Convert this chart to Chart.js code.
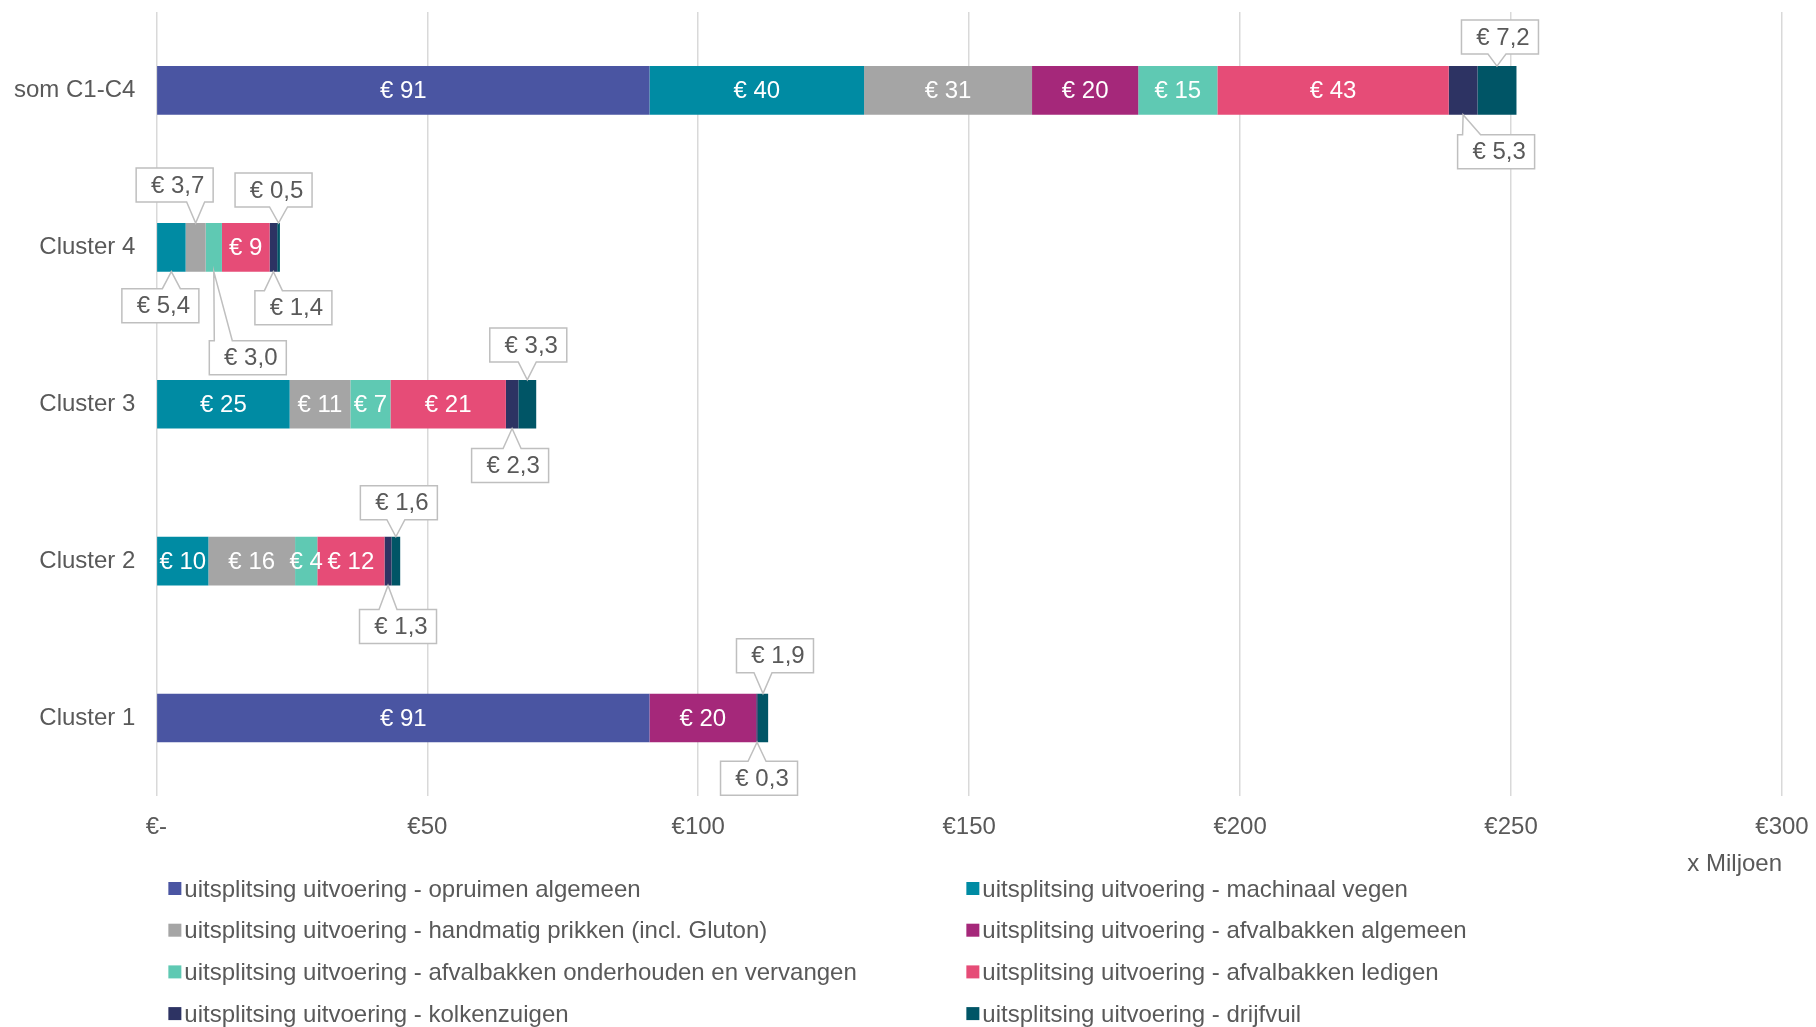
<!DOCTYPE html>
<html>
<head>
    <title>Uitsplitsing uitvoering per cluster</title>
    <meta charset="UTF-8">
    <script src="https://cdn.jsdelivr.net/npm/chart.js@4.4.0/dist/chart.umd.min.js"></script>
    <style>
        html, body { margin: 0; padding: 0; background: #fff; }
    </style>
</head>
<body>
    <canvas id="costChart" width="1816" height="1027"></canvas>

    <script>
        // Categories (top to bottom) and x-axis tick labels
        var categories = ['som C1-C4', 'Cluster 4', 'Cluster 3', 'Cluster 2', 'Cluster 1'];
        var xTickLabels = ['€-', '€50', '€100', '€150', '€200', '€250', '€300'];

        var seriesNames = [
            'uitsplitsing uitvoering - opruimen algemeen',
            'uitsplitsing uitvoering - machinaal vegen',
            'uitsplitsing uitvoering - handmatig prikken (incl. Gluton)',
            'uitsplitsing uitvoering - afvalbakken algemeen',
            'uitsplitsing uitvoering - afvalbakken onderhouden en vervangen',
            'uitsplitsing uitvoering - afvalbakken ledigen',
            'uitsplitsing uitvoering - kolkenzuigen',
            'uitsplitsing uitvoering - drijfvuil'
        ];

        // Values in millions of euros, one per category
        var opruimenAlgemeen     = [91,   0,   0,    0,    91];
        var machinaalVegen       = [39.6, 5.4, 24.6, 9.6,  0];
        var handmatigPrikken     = [31,   3.7, 11.2, 16,   0];
        var afvalbakkenAlgemeen  = [19.6, 0,   0,    0,    19.7];
        var afvalbakkenOnderhoud = [14.6, 3.0, 7.4,  4.1,  0];
        var afvalbakkenLedigen   = [42.7, 8.8, 21.3, 12.4, 0];
        var kolkenzuigen         = [5.3,  1.4, 2.3,  1.3,  0.3];
        var drijfvuil            = [7.2,  0.5, 3.3,  1.6,  1.9];

        var seriesValues = [opruimenAlgemeen, machinaalVegen, handmatigPrikken, afvalbakkenAlgemeen,
                            afvalbakkenOnderhoud, afvalbakkenLedigen, kolkenzuigen, drijfvuil];
        var seriesColors = ['#4a55a2', '#008ba3', '#a5a5a5', '#a5287a', '#5fc9b3', '#e64c77', '#2d3363', '#005566'];

        // Callout placement for small segments: "series-category" -> [dx, dy] of the box centre
        // relative to the segment centre on the bar edge (dy < 0 above the bar, dy > 0 below)
        var callouts = {
            '7-0': [3, -29],  '6-0': [33, 37],
            '1-1': [-11, 34], '2-1': [-21, -38], '4-1': [34, 86], '6-1': [20, 36], '7-1': [-5, -33],
            '6-2': [-2, 37],  '7-2': [1, -35],
            '6-3': [10, 41],  '7-3': [3, -34],
            '6-4': [2, 36],   '7-4': [12, -38]
        };

        var textColor = '#595959';
        Chart.defaults.font.family = '"Liberation Sans", Arial, sans-serif';
        Chart.defaults.font.size = 24;
        Chart.defaults.color = textColor;

        function euro1(v) {
            return '€ ' + v.toFixed(1).replace('.', ',');
        }

        function drawCallout(ctx, ax, ay, cx, cy, text) {
            var w = 77, h = 34, half = 9;
            var l = cx - w / 2, r = cx + w / 2, t = cy - h / 2, b = cy + h / 2;
            var bx = Math.min(Math.max(ax, l + 14), r - 14);
            ctx.beginPath();
            if (cy > ay) {
                ctx.moveTo(l, t); ctx.lineTo(bx - half, t); ctx.lineTo(ax, ay); ctx.lineTo(bx + half, t);
                ctx.lineTo(r, t); ctx.lineTo(r, b); ctx.lineTo(l, b); ctx.closePath();
            } else {
                ctx.moveTo(l, t); ctx.lineTo(r, t); ctx.lineTo(r, b); ctx.lineTo(bx + half, b);
                ctx.lineTo(ax, ay); ctx.lineTo(bx - half, b); ctx.lineTo(l, b); ctx.closePath();
            }
            ctx.fillStyle = '#ffffff';
            ctx.fill();
            ctx.strokeStyle = '#bfbfbf';
            ctx.lineWidth = 1.5;
            ctx.stroke();
            ctx.fillStyle = textColor;
            ctx.fillText(text, cx + 3, cy + 1);
        }

        // Value labels inside the bars and callouts for the narrow segments
        var labelPlugin = {
            id: 'valueLabels',
            afterDatasetsDraw: function (chart) {
                var ctx = chart.ctx;
                ctx.save();
                ctx.font = '24px "Liberation Sans", Arial, sans-serif';
                ctx.textAlign = 'center';
                ctx.textBaseline = 'middle';
                chart.data.datasets.forEach(function (ds, si) {
                    var meta = chart.getDatasetMeta(si);
                    meta.data.forEach(function (bar, ci) {
                        var v = ds.data[ci];
                        if (!v) return;
                        var p = bar.getProps(['x', 'y', 'base', 'height'], true);
                        var mid = (p.x + p.base) / 2;
                        var c = callouts[si + '-' + ci];
                        if (c) {
                            var edge = c[1] < 0 ? p.y - p.height / 2 : p.y + p.height / 2;
                            drawCallout(ctx, mid, edge, mid + c[0], edge + c[1], euro1(v));
                        } else {
                            ctx.fillStyle = '#ffffff';
                            ctx.fillText('€ ' + Math.round(v), mid, p.y + 1);
                        }
                    });
                });
                ctx.restore();
            }
        };

        // Two-column legend below the axis title
        var legendPlugin = {
            id: 'twoColLegend',
            afterDraw: function (chart) {
                var ctx = chart.ctx;
                var left = chart.chartArea.left;
                var cols = [left + 12, left + 810];
                var top = chart.scales.x.bottom + 10;
                ctx.save();
                ctx.font = '24px "Liberation Sans", Arial, sans-serif';
                ctx.textBaseline = 'middle';
                ctx.textAlign = 'left';
                chart.data.datasets.forEach(function (ds, i) {
                    var x = cols[i % 2];
                    var y = top + Math.floor(i / 2) * 41.7;
                    ctx.fillStyle = ds.backgroundColor;
                    ctx.fillRect(x, y - 7, 13, 13);
                    ctx.fillStyle = textColor;
                    ctx.fillText(ds.label, x + 16, y + 1);
                });
                ctx.restore();
            }
        };

        var chart = new Chart(document.getElementById('costChart').getContext('2d'), {
            type: 'bar',
            data: {
                labels: categories,
                datasets: seriesValues.map(function (vals, i) {
                    return {
                        label: seriesNames[i],
                        data: vals,
                        backgroundColor: seriesColors[i],
                        borderWidth: 0
                    };
                })
            },
            options: {
                indexAxis: 'y',
                responsive: false,
                animation: false,
                layout: { padding: { left: 14, right: 34, top: 12, bottom: 148 } },
                datasets: { bar: { categoryPercentage: 1, barPercentage: 0.31 } },
                scales: {
                    x: {
                        stacked: true,
                        min: 0,
                        max: 300,
                        ticks: {
                            stepSize: 50,
                            padding: 17,
                            color: textColor,
                            callback: function (v) { return xTickLabels[v / 50]; }
                        },
                        grid: { color: '#d9d9d9', lineWidth: 1.5, drawTicks: false },
                        border: { display: false },
                        title: {
                            display: true,
                            text: 'x Miljoen',
                            align: 'end',
                            color: textColor,
                            padding: { top: 8, bottom: 0 }
                        },
                        afterFit: function (s) {
                            // only one tick padding below the plot, no side padding for end labels
                            s.height -= s.options.ticks.padding;
                            s.paddingLeft = 0;
                            s.paddingRight = 0;
                        }
                    },
                    y: {
                        stacked: true,
                        ticks: { padding: 21, color: textColor },
                        grid: { display: false, drawTicks: false },
                        border: { display: false },
                        afterFit: function (s) {
                            s.width -= s.options.ticks.padding;
                            s.paddingTop = 0;
                            s.paddingBottom = 0;
                        }
                    }
                },
                plugins: {
                    legend: { display: false },
                    tooltip: { enabled: false }
                }
            },
            plugins: [labelPlugin, legendPlugin]
        });
    </script>
</body>
</html>
